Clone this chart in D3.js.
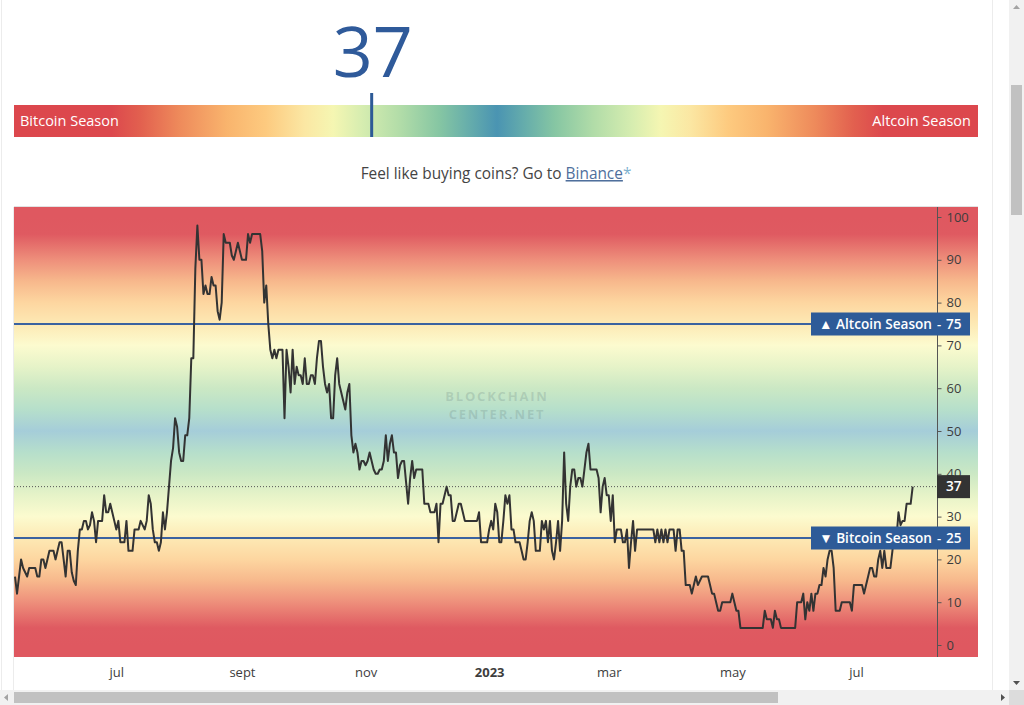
<!DOCTYPE html>
<html><head><meta charset="utf-8">
<script src="https://cdn.jsdelivr.net/npm/d3@7"></script>
<style>body{margin:0;background:#fff;overflow:hidden}svg{display:block}</style>
</head><body><svg id="c" width="1024" height="705"></svg>
<script>
// ---------------- data ----------------
const startDate = "2022-05-12";
const indexValues = [
16,12,16,20,18,17,16,18,18,18,
18,16,16,20,20,18,20,22,22,22,
20,22,24,24,20,16,22,22,17,15,
14,22,27,27,29,29,27,28,31,29,
24,29,29,29,35,31,31,33,31,29,
27,29,24,24,24,29,22,22,22,27,
27,27,29,28,27,29,35,33,27,24,
24,22,24,31,27,31,37,43,46,53,
51,45,43,43,49,49,53,67,67,88,
98,90,90,82,84,82,82,86,84,84,
78,76,80,96,94,94,94,91,90,92,
94,92,90,90,90,96,94,96,96,96,
96,96,92,80,84,75,69,67,69,67,
69,69,69,53,69,65,59,69,61,65,
63,63,61,67,61,61,63,63,61,67,
71,71,65,61,59,61,53,53,63,67,
61,59,57,55,59,61,49,45,47,45,
41,43,43,42,43,45,43,41,40,40,
41,41,43,49,43,47,49,45,45,39,
42,43,43,38,33,39,43,39,41,41,
41,41,33,33,33,31,31,31,33,24,
33,33,35,37,35,35,29,29,31,33,
33,31,29,29,29,29,29,29,29,31,
24,24,24,24,27,29,27,33,31,24,
24,29,35,33,35,27,27,24,24,24,
22,20,20,24,29,31,29,22,22,22,
29,27,29,24,29,22,20,24,29,22,
29,45,33,29,37,41,41,37,39,39,
37,41,45,47,41,41,41,41,39,31,
37,39,35,35,29,35,24,27,27,27,
24,24,27,18,24,29,22,27,27,27,
27,27,27,27,27,27,24,27,24,27,
24,27,24,27,27,27,22,27,27,22,
22,14,14,14,12,14,16,14,15,16,
16,16,16,14,12,12,10,8,8,10,
10,10,10,10,12,10,8,8,4,4,
4,4,4,4,4,4,4,4,4,4,
8,6,6,6,4,8,6,6,4,4,
4,4,4,4,4,4,10,10,10,12,
6,10,8,12,8,12,12,14,14,18,
16,20,22,22,18,8,8,8,10,10,
10,10,10,8,14,14,14,14,14,12,
14,16,18,18,16,16,20,22,18,22,
18,18,18,22,27,25,31,28,29,29,
33,33,33,37
];
const currentValue = 37;
const seasonLevels = [75, 25];
const seasonNames = ["▲ Altcoin Season", "▼ Bitcoin Season"];
const yTickValues = [0,10,20,30,40,50,60,70,80,90,100];
const monthTicks = ["2022-07-01","2022-09-01","2022-11-01","2023-01-01","2023-03-01","2023-05-01","2023-07-01"];
const monthLabels = ["jul","sept","nov","2023","mar","may","jul"];
const domainEnd = "2023-08-10";

// ---------------- setup ----------------
const svg = d3.select("#c");
const parse = d3.timeParse("%Y-%m-%d");
const t0 = parse(startDate);
const series = indexValues.map((v, i) => ({date: d3.timeDay.offset(t0, i), value: v}));
const FONT = "'Open Sans', 'Noto Sans', sans-serif";

// page frame
svg.append("rect").attr("width",1024).attr("height",705).attr("fill","#fff");
svg.append("line").attr("x1",1.5).attr("x2",1.5).attr("y1",0).attr("y2",690).attr("stroke","#ececec");
svg.append("line").attr("x1",992.5).attr("x2",992.5).attr("y1",0).attr("y2",690).attr("stroke","#ececec");

// ---------------- gauge ----------------
const gx = d3.scaleLinear().domain([0,100]).range([15,979]);
const defs = svg.append("defs");
const gg = defs.append("linearGradient").attr("id","gauge").attr("gradientUnits","userSpaceOnUse")
  .attr("x1",gx(0)).attr("x2",gx(100)).attr("y1",0).attr("y2",0);
const gaugeStops = [[0,"#dc474d"],[10,"#dc484d"],[13,"#e2604f"],[17,"#ee8a5b"],[22,"#f9b46d"],[26,"#fdca7f"],[30,"#fbe7a3"],[33,"#f5f6b2"],[36,"#d6edb0"],[40,"#b1dca8"],[44,"#86c6a3"],[47,"#67aeab"],[50,"#4a94b2"]];
gaugeStops.forEach(s => gg.append("stop").attr("offset", s[0]/100).attr("stop-color", s[1]));
gaugeStops.slice().reverse().forEach(s => gg.append("stop").attr("offset", (100-s[0])/100).attr("stop-color", s[1]));
svg.append("rect").attr("x",14).attr("y",105).attr("width",964).attr("height",32).attr("fill","url(#gauge)");
svg.append("text").attr("x",20).attr("y",121).attr("dy","0.35em").attr("fill","#fff")
  .style("font",`14.5px ${FONT}`).text("Bitcoin Season");
svg.append("text").attr("x",971).attr("y",121).attr("dy","0.35em").attr("text-anchor","end").attr("fill","#fff")
  .style("font",`14.5px ${FONT}`).text("Altcoin Season");
svg.append("line").attr("x1",gx(currentValue)).attr("x2",gx(currentValue)).attr("y1",93).attr("y2",137)
  .attr("stroke","#2d5a96").attr("stroke-width",3);
svg.append("text").attr("x",gx(currentValue)+1).attr("y",77).attr("text-anchor","middle").attr("fill","#2f5a9a")
  .style("font",`70px ${FONT}`).text(currentValue);

const promo = svg.append("text").attr("x",496).attr("y",179).attr("text-anchor","middle").attr("fill","#444")
  .style("font",`15.4px ${FONT}`);
promo.append("tspan").text("Feel like buying coins? Go to ");
promo.append("tspan").attr("fill","#4f6f9c").attr("text-decoration","underline").text("Binance");
promo.append("tspan").attr("fill","#7fb3d0").text("*");

// ---------------- chart ----------------
const plot = {left:14, right:937, top:207, bottom:657, outerRight:978};
const x = d3.scaleTime().domain([t0, parse(domainEnd)]).range([15, plot.right]);
const y = d3.scaleLinear().domain([0,100]).range([645, 217]);

const bg = defs.append("linearGradient").attr("id","bg").attr("gradientUnits","userSpaceOnUse")
  .attr("x1",0).attr("x2",0).attr("y1",y(100)).attr("y2",y(0));
const bgStops = [[103,"#df5860"],[96,"#df5a61"],[90,"#ee8f7b"],[85,"#f7b88c"],[80,"#fdd6a0"],[75,"#fde9b4"],[70,"#fcfbcf"],[65,"#e6f3c8"],[60,"#cbe8c4"],[55,"#b6dfcb"],[50,"#a5cdd9"]];
const v2o = v => (y(v) - y(100)) / (y(0) - y(100));
bgStops.forEach(s => bg.append("stop").attr("offset", v2o(s[0])).attr("stop-color", s[1]));
bgStops.slice().reverse().forEach(s => bg.append("stop").attr("offset", v2o(100 - s[0])).attr("stop-color", s[1]));

svg.append("rect").attr("x",plot.left).attr("y",plot.top).attr("width",plot.outerRight-plot.left)
  .attr("height",plot.bottom-plot.top).attr("fill","url(#bg)");
svg.append("line").attr("x1",plot.left).attr("x2",plot.outerRight).attr("y1",plot.top-0.5).attr("y2",plot.top-0.5).attr("stroke","#e2e2e2");
svg.append("line").attr("x1",plot.left-0.5).attr("x2",plot.left-0.5).attr("y1",plot.top).attr("y2",690).attr("stroke","#ececec");

// watermark
const wmStyle = `bold 13px ${FONT}`;
svg.append("text").attr("x",497).attr("y",401).attr("text-anchor","middle").attr("fill","rgba(95,120,120,0.22)")
  .style("font",wmStyle).style("letter-spacing","1.8px").text("BLOCKCHAIN");
svg.append("text").attr("x",497).attr("y",419).attr("text-anchor","middle").attr("fill","rgba(95,120,120,0.22)")
  .style("font",wmStyle).style("letter-spacing","1.8px").text("CENTER.NET");

defs.append("clipPath").attr("id","clip").append("rect")
  .attr("x",plot.left).attr("y",plot.top).attr("width",plot.right-plot.left).attr("height",plot.bottom-plot.top);

// season lines
svg.selectAll(".season").data(seasonLevels).join("line")
  .attr("x1",plot.left).attr("x2",plot.right).attr("y1",d=>y(d)).attr("y2",d=>y(d))
  .attr("stroke","#3b62a0").attr("stroke-width",2);

// current dotted line
svg.append("line").attr("x1",plot.left).attr("x2",plot.right).attr("y1",y(currentValue)).attr("y2",y(currentValue))
  .attr("stroke","#555").attr("stroke-width",1).attr("stroke-dasharray","1,2");

// series line
const line = d3.line().x(d=>x(d.date)).y(d=>y(d.value));
svg.append("path").datum(series).attr("clip-path","url(#clip)").attr("d",line)
  .attr("fill","none").attr("stroke","#333").attr("stroke-width",2).attr("stroke-linejoin","round");

// y axis
svg.append("line").attr("x1",plot.right+0.5).attr("x2",plot.right+0.5).attr("y1",plot.top).attr("y2",plot.bottom).attr("stroke","#555");
const yAxis = svg.append("g").attr("transform",`translate(${plot.right+0.5},0)`)
  .call(d3.axisRight(y).tickValues(yTickValues).tickSize(4).tickPadding(5));
yAxis.select(".domain").remove();
yAxis.selectAll("line").attr("stroke","#555");
yAxis.selectAll("text").attr("fill","#3d3d3d").style("font",`13px ${FONT}`);

// x axis
const xAxis = svg.append("g").attr("transform",`translate(0,${plot.bottom})`)
  .call(d3.axisBottom(x).tickValues(monthTicks.map(parse)).tickSize(0).tickPadding(11)
    .tickFormat((d,i)=>monthLabels[i]));
xAxis.select(".domain").remove();
xAxis.selectAll("text").attr("fill","#3d3d3d").style("font",`13px ${FONT}`)
  .style("font-weight",(d,i)=>monthLabels[i]==="2023"?"bold":"normal");

// season label boxes
seasonLevels.forEach((lv,i)=>{
  const g = svg.append("g");
  g.append("rect").attr("x",811).attr("y",y(lv)-11.5).attr("width",159).attr("height",23).attr("fill","#2e5b98");
  g.append("text").attr("x",932).attr("y",y(lv)).attr("dy","0.35em").attr("text-anchor","end").attr("fill","#fff")
    .style("font",`600 13.6px ${FONT}`).text(seasonNames[i]);
  g.append("text").attr("x",939).attr("y",y(lv)).attr("dy","0.35em").attr("text-anchor","middle").attr("fill","#fff")
    .style("font",`600 13px ${FONT}`).text("-");
  g.append("text").attr("x",946).attr("y",y(lv)).attr("dy","0.35em").attr("fill","#fff")
    .style("font",`600 13.6px ${FONT}`).text(lv);
});
// current value box (covers part of the "40" tick label as in the original)
svg.append("rect").attr("x",plot.right).attr("y",y(currentValue)-11.5).attr("width",33).attr("height",23).attr("fill","#333");
svg.append("text").attr("x",946).attr("y",y(currentValue)).attr("dy","0.35em").attr("fill","#fff")
  .style("font",`600 13.6px ${FONT}`).text(currentValue);

// ---------------- browser scrollbars ----------------
svg.append("rect").attr("x",1009).attr("y",0).attr("width",15).attr("height",690).attr("fill","#f1f1f1");
svg.append("rect").attr("x",1011).attr("y",85).attr("width",11).attr("height",130).attr("fill","#c1c1c1");
svg.append("path").attr("d","M1013,9 L1016.5,5 L1020,9 Z").attr("fill","#a3a3a3");
svg.append("path").attr("d","M1013,681 L1016.5,685 L1020,681 Z").attr("fill","#505050");
svg.append("rect").attr("x",0).attr("y",690).attr("width",1009).attr("height",15).attr("fill","#f1f1f1");
svg.append("rect").attr("x",14).attr("y",692).attr("width",764).attr("height",11).attr("fill","#c1c1c1");
svg.append("path").attr("d","M8,694 L4,697.5 L8,701 Z").attr("fill","#a3a3a3");
svg.append("path").attr("d","M1001,694 L1005,697.5 L1001,701 Z").attr("fill","#505050");
svg.append("rect").attr("x",1009).attr("y",690).attr("width",15).attr("height",15).attr("fill","#dcdcdc");
</script></body></html>
